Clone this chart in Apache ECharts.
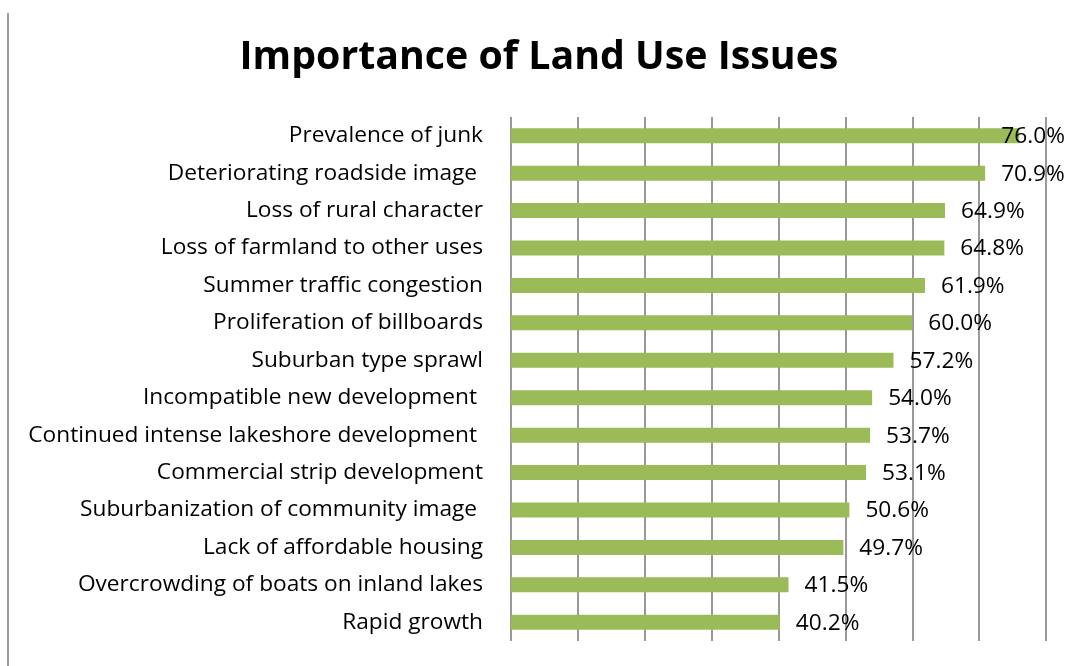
<!DOCTYPE html>
<html>
<head>
<meta charset="utf-8">
<script src="https://cdn.jsdelivr.net/npm/echarts@6/dist/echarts.min.js"></script>
<style>
  html, body { margin: 0; padding: 0; background: #fff; }
  #chart { width: 1067px; height: 666px; }
</style>
</head>
<body>
<div id="chart"></div>
<script>
// Land use issues, ordered from most to least important
const issues = [
  'Prevalence of junk',
  'Deteriorating roadside image ',
  'Loss of rural character',
  'Loss of farmland to other uses',
  'Summer traffic congestion',
  'Proliferation of billboards',
  'Suburban type sprawl',
  'Incompatible new development ',
  'Continued intense lakeshore development ',
  'Commercial strip development',
  'Suburbanization of community image ',
  'Lack of affordable housing',
  'Overcrowding of boats on inland lakes',
  'Rapid growth'
];
// Share of respondents rating each issue as important (%)
const importance = [76.0, 70.9, 64.9, 64.8, 61.9, 60.0, 57.2, 54.0, 53.7, 53.1, 50.6, 49.7, 41.5, 40.2];

const FONT = '"Open Sans"';
const chart = echarts.init(document.getElementById('chart'), null, { renderer: 'canvas' });

// The longest bar's label is pulled back over the bar end so it stays inside the canvas
const barData = importance.map((v, i) =>
  i === 0 ? { value: v, label: { offset: [-34, 1] } } : v
);

chart.setOption({
  backgroundColor: '#ffffff',
  animation: false,
  title: {
    text: 'Importance of Land Use Issues',
    left: 534,
    textAlign: 'center',
    top: 33,
    textStyle: { fontFamily: FONT, fontSize: 39.3, fontWeight: 'bold', color: '#000' }
  },
  graphic: [{
    type: 'line',
    shape: { x1: 8, y1: 13, x2: 8, y2: 666 },
    style: { stroke: '#9a9a9a', lineWidth: 2 }
  }],
  grid: { left: 511, right: 21, top: 117, bottom: 25, containLabel: false },
  xAxis: {
    type: 'value',
    min: 0,
    max: 80,
    interval: 10,
    axisLabel: { show: false },
    axisLine: { show: false },
    axisTick: { show: false },
    splitLine: { show: true, lineStyle: { color: '#999999', width: 2 } }
  },
  yAxis: {
    type: 'category',
    data: issues,
    inverse: true,
    axisLine: { show: false },
    axisTick: { show: false },
    axisLabel: { margin: 28, fontFamily: FONT, fontSize: 22.7, color: '#000' }
  },
  series: [{
    type: 'bar',
    data: barData,
    barWidth: 15,
    itemStyle: { color: '#9BBB59' },
    label: {
      show: true,
      position: 'right',
      distance: 16,
      offset: [0, 1],
      fontFamily: FONT,
      fontSize: 22.7,
      color: '#000',
      formatter: p => p.value.toFixed(1) + '%'
    }
  }]
});
</script>
</body>
</html>
